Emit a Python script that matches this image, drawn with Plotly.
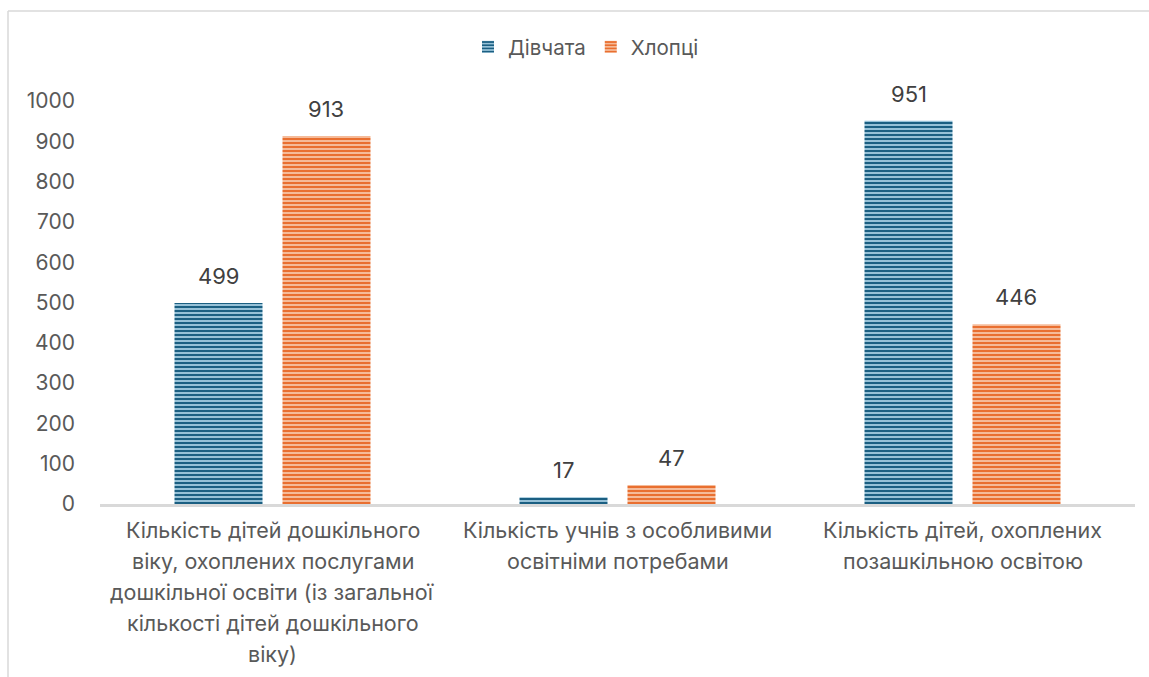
import plotly.graph_objects as go

categories = ["cat1", "cat2", "cat3"]
category_lines = [
    ["Кількість дітей дошкільного", "віку, охоплених послугами",
     "дошкільної освіти (із загальної", "кількості дітей дошкільного", "віку)"],
    ["Кількість учнів з особливими", "освітніми потребами"],
    ["Кількість дітей, охоплених", "позашкільною освітою"],
]
girls = [499, 17, 951]
boys = [913, 47, 446]
series_names = ["Дівчата", "Хлопці"]
yticks = [0, 100, 200, 300, 400, 500, 600, 700, 800, 900, 1000]

FONT = "Inter, Noto Sans, sans-serif"
W, H = 1149, 677
L, R, T, B = 100, 14, 101, 173
pw, ph = W - L - R, H - T - B

BARGAP, GROUPGAP = 0.374, 0.185
slot_px = pw / len(categories) * (1 - BARGAP) / 2

fig = go.Figure()
fig.add_trace(go.Bar(
    name=series_names[0], x=categories, y=girls,
    marker=dict(color="#9cc6dc", line=dict(width=0),
                pattern=dict(shape="-", fgcolor="#1b5f82", bgcolor="#a3cce1",
                             size=4, solidity=0.55, fillmode="replace")),
))
fig.add_trace(go.Bar(
    name=series_names[1], x=categories, y=boys,
    marker=dict(color="#f5b993", line=dict(width=0),
                pattern=dict(shape="-", fgcolor="#e96f30", bgcolor="#f7c4a4",
                             size=4, solidity=0.55, fillmode="replace")),
))

annotations = []
for k, vals in enumerate([girls, boys]):
    shift = (k - 0.5) * slot_px
    for cat, v in zip(categories, vals):
        annotations.append(dict(
            x=cat, xref="x", y=v, yref="y", yanchor="bottom",
            xshift=shift, yshift=12, text=str(v), showarrow=False,
            font=dict(size=22, color="#404040", family=FONT),
        ))

for cat, lines in zip(categories, category_lines):
    for i, line in enumerate(lines):
        annotations.append(dict(
            x=cat, xref="x", y=0, yref="paper", yanchor="middle",
            yshift=-(26 + 31 * i), text=line, showarrow=False,
            font=dict(size=21.5, color="#595959", family=FONT),
        ))

def px_x(p):
    return (p - L) / pw

def px_y(p):
    return (H - B - p) / ph

shapes = [
    dict(type="line", xref="paper", yref="paper",
         x0=px_x(8), x1=px_x(1149), y0=px_y(11), y1=px_y(11),
         line=dict(color="#d9d9d9", width=1.5)),
    dict(type="line", xref="paper", yref="paper",
         x0=px_x(8), x1=px_x(8), y0=px_y(11), y1=px_y(677),
         line=dict(color="#d9d9d9", width=1.5)),
]

fig.update_layout(
    width=W, height=H,
    margin=dict(l=L, r=R, t=T, b=B),
    paper_bgcolor="white", plot_bgcolor="white",
    barmode="group", bargap=BARGAP, bargroupgap=GROUPGAP,
    font=dict(family=FONT, color="#595959"),
    legend=dict(orientation="h", x=px_x(586), xanchor="center",
                y=px_y(47), yanchor="middle",
                font=dict(size=20.5, color="#595959", family=FONT),
                itemwidth=30, tracegroupgap=0),
    xaxis=dict(showticklabels=False, showgrid=False, ticks="",
               showline=True, linecolor="#d9d9d9", linewidth=3),
    yaxis=dict(range=[0, 1000], tickvals=yticks, showgrid=False,
               zeroline=False, showline=False,
               tickfont=dict(size=21, color="#595959", family=FONT),
               ticklabelstandoff=24),
    annotations=annotations,
    shapes=shapes,
)

fig.write_html("out.html", config={"displayModeBar": False},
               post_script="document.body.style.margin='0';")
